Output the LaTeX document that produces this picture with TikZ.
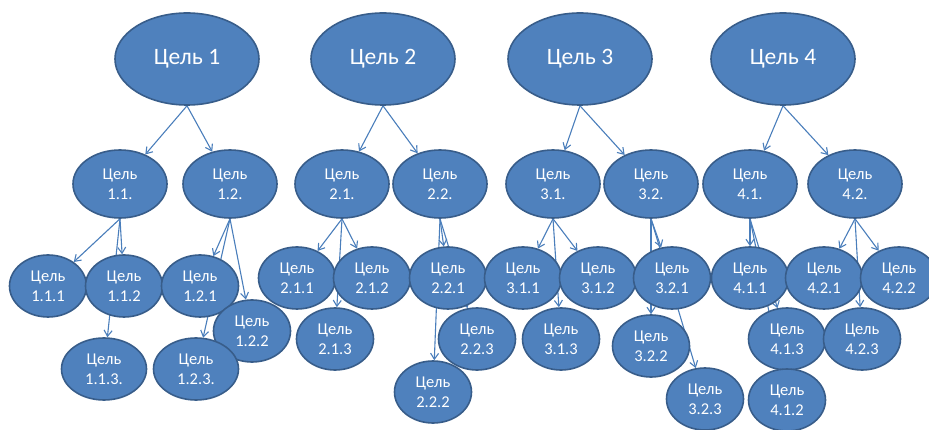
\documentclass[tikz,border=0pt]{standalone}
\usepackage{fontspec}
\setmainfont{Carlito}
\usetikzlibrary{shapes.geometric,arrows.meta,backgrounds}
\definecolor{goalfill}{RGB}{79, 129, 189}
\definecolor{goalline}{RGB}{56, 93, 138}
\definecolor{linkcolor}{RGB}{74, 126, 187}

\begin{document}
\begin{tikzpicture}[
    x=1pt, y=-1pt,
    goal/.style={ellipse, draw=goalline, line width=1.6pt, fill=goalfill,
        text=white, inner sep=0pt, align=center},
    topgoal/.style={goal, minimum width=144pt, minimum height=92pt,
        font=\fontsize{23.5}{27}\selectfont},
    midgoal/.style={goal, minimum width=94pt, minimum height=68pt,
        font=\fontsize{16.5}{20}\selectfont},
    subgoal/.style={goal, minimum width=77pt, minimum height=62pt,
        font=\fontsize{16.5}{20}\selectfont},
    link/.style={draw=linkcolor, line width=1.1pt,
        -{Straight Barb[length=6pt,width=8pt]}}
]
\useasboundingbox (0,0) rectangle (929,430);

\node[topgoal] (g1) at (187,59) {Цель 1};
\node[topgoal] (g2) at (383,59) {Цель 2};
\node[topgoal] (g3) at (580,59) {Цель 3};
\node[topgoal] (g4) at (783,59) {Цель 4};

\node[midgoal] (g11) at (120,184) {Цель\\1.1.};
\node[midgoal] (g12) at (230,184) {Цель\\1.2.};
\node[midgoal] (g21) at (342,184) {Цель\\2.1.};
\node[midgoal] (g22) at (440,184) {Цель\\2.2.};
\node[midgoal] (g31) at (553,184) {Цель\\3.1.};
\node[midgoal] (g32) at (651,184) {Цель\\3.2.};
\node[midgoal] (g41) at (750,184) {Цель\\4.1.};
\node[midgoal] (g42) at (855,184) {Цель\\4.2.};

\node[subgoal] (g111) at (48,286) {Цель\\1.1.1};
\node[subgoal] (g112) at (124,286) {Цель\\1.1.2};
\node[subgoal] (g121) at (200,286) {Цель\\1.2.1};
\node[subgoal] (g122) at (252,331) {Цель\\1.2.2};
\node[subgoal, minimum width=85pt] (g113) at (104,369) {Цель\\1.1.3.};
\node[subgoal, minimum width=85pt] (g123) at (196,369) {Цель\\1.2.3.};

\node[subgoal] (g211) at (297,278) {Цель\\2.1.1};
\node[subgoal] (g212) at (372,278) {Цель\\2.1.2};
\node[subgoal] (g221) at (448,278) {Цель\\2.2.1};
\node[subgoal] (g213) at (335,339) {Цель\\2.1.3};
\node[subgoal] (g223) at (477,339) {Цель\\2.2.3};
\node[subgoal] (g222) at (433,392) {Цель\\2.2.2};

\node[subgoal] (g311) at (523,278) {Цель\\3.1.1};
\node[subgoal] (g312) at (598,278) {Цель\\3.1.2};
\node[subgoal] (g321) at (672,278) {Цель\\3.2.1};
\node[subgoal] (g313) at (561,339) {Цель\\3.1.3};
\node[subgoal] (g322) at (651,346) {Цель\\3.2.2};
\node[subgoal] (g323) at (705,399) {Цель\\3.2.3};

\node[subgoal] (g411) at (750,278) {Цель\\4.1.1};
\node[subgoal] (g421) at (824,278) {Цель\\4.2.1};
\node[subgoal] (g422) at (899,278) {Цель\\4.2.2};
\node[subgoal] (g413) at (787,339) {Цель\\4.1.3};
\node[subgoal] (g423) at (862,339) {Цель\\4.2.3};
\node[subgoal] (g412) at (787,400) {Цель\\4.1.2};

\begin{pgfonlayer}{background}
\foreach \p/\c in {g1/g11, g1/g12, g2/g21, g2/g22, g3/g31, g3/g32, g4/g41, g4/g42,
    g11/g111, g11/g112, g11/g113, g12/g121, g12/g122, g12/g123,
    g21/g211, g21/g212, g21/g213, g22/g221, g22/g222, g22/g223,
    g31/g311, g31/g312, g31/g313, g32/g321, g32/g322, g32/g323,
    g41/g411, g41/g412, g41/g413, g42/g421, g42/g422, g42/g423}
    \draw[link] (\p.south) -- (\c);
\end{pgfonlayer}
\end{tikzpicture}
\end{document}
